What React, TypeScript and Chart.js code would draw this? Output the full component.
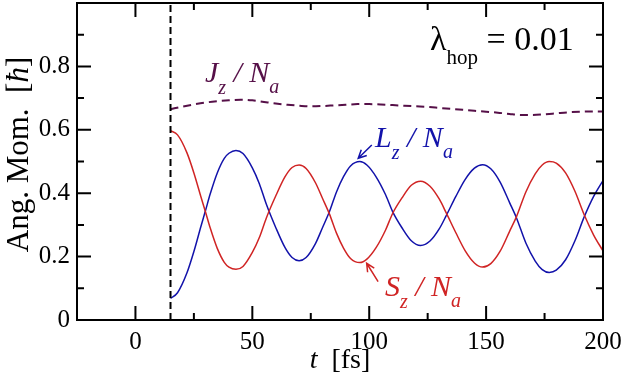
import React, { useEffect, useRef } from "react";
import { Chart, registerables } from "chart.js";

Chart.register(...registerables);

// ---------- data ----------
const T_LS = [15, 18, 22, 25, 28, 30, 32, 35, 38, 40, 43, 46, 50, 53, 56, 60, 64, 67, 70, 73, 77, 80, 83, 86, 89, 92, 96, 99, 103, 107, 110, 114, 118, 122, 126, 130, 133, 137, 141, 145, 148.5, 152, 156, 160, 163, 167, 171, 174, 177, 180, 184, 188, 192, 196, 200];
const Lz = [0.068, 0.086, 0.148, 0.216, 0.295, 0.346, 0.398, 0.464, 0.51, 0.526, 0.535, 0.525, 0.48, 0.43, 0.365, 0.292, 0.228, 0.197, 0.187, 0.197, 0.241, 0.291, 0.342, 0.404, 0.452, 0.486, 0.5, 0.489, 0.451, 0.395, 0.342, 0.291, 0.25, 0.235, 0.249, 0.288, 0.33, 0.389, 0.443, 0.479, 0.49, 0.477, 0.435, 0.371, 0.322, 0.243, 0.186, 0.159, 0.15, 0.157, 0.19, 0.25, 0.326, 0.39, 0.44];
const Sz = [0.597, 0.584, 0.528, 0.464, 0.389, 0.34, 0.29, 0.226, 0.182, 0.167, 0.16, 0.169, 0.213, 0.26, 0.322, 0.391, 0.452, 0.481, 0.489, 0.478, 0.433, 0.384, 0.334, 0.274, 0.227, 0.194, 0.181, 0.192, 0.229, 0.284, 0.336, 0.385, 0.425, 0.438, 0.422, 0.381, 0.337, 0.276, 0.219, 0.18, 0.167, 0.178, 0.217, 0.279, 0.326, 0.404, 0.461, 0.489, 0.5, 0.495, 0.464, 0.406, 0.331, 0.268, 0.218];
const T_J = [15, 20, 25, 30, 35, 40, 45, 50, 55, 60, 65, 70, 75, 80, 85, 90, 95, 100, 105, 110, 115, 120, 125, 130, 135, 140, 145, 150, 155, 160, 165, 170, 175, 180, 185, 190, 195, 200];
const Jz = [0.665, 0.673, 0.68, 0.686, 0.69, 0.693, 0.695, 0.693, 0.688, 0.683, 0.679, 0.676, 0.674, 0.675, 0.677, 0.679, 0.681, 0.681, 0.68, 0.678, 0.676, 0.674, 0.672, 0.669, 0.666, 0.663, 0.66, 0.657, 0.654, 0.65, 0.647, 0.647, 0.649, 0.652, 0.655, 0.657, 0.658, 0.658];
const T_START = [15, 15];
const V_START = [0, 1];

const X_RANGE = [-25, 200];
const Y_RANGE = [0, 1];
const X_MAJOR = [0, 50, 100, 150, 200];
const X_MINOR = [25, 75, 125, 175];
const Y_MAJOR = [0, 0.2, 0.4, 0.6, 0.8, 1.0];
const Y_MINOR = [0.1, 0.3, 0.5, 0.7, 0.9];
const Y_LABELS = ["0", "0.2", "0.4", "0.6", "0.8", ""];

const FAMILY = '"Liberation Serif", "DejaVu Serif", "Times New Roman", serif';
const BLUE = "#1212aa";
const RED = "#d02424";
const PURPLE = "#561048";

type Seg = { t: string; size: number; italic?: boolean; dy?: number };

function richWidth(ctx: CanvasRenderingContext2D, segs: Seg[]) {
  let w = 0;
  for (const s of segs) {
    ctx.font = `${s.italic ? "italic " : ""}${s.size}px ${FAMILY}`;
    w += ctx.measureText(s.t).width;
  }
  return w;
}

function drawRich(ctx: CanvasRenderingContext2D, segs: Seg[], x: number, y: number, color: string, align: "left" | "center" = "left") {
  ctx.save();
  ctx.fillStyle = color;
  ctx.textBaseline = "alphabetic";
  ctx.textAlign = "left";
  let cx = x;
  if (align === "center") cx = x - richWidth(ctx, segs) / 2;
  for (const s of segs) {
    ctx.font = `${s.italic ? "italic " : ""}${s.size}px ${FAMILY}`;
    ctx.fillText(s.t, cx, y + (s.dy || 0));
    cx += ctx.measureText(s.t).width;
  }
  ctx.restore();
}

function arrow(ctx: CanvasRenderingContext2D, x1: number, y1: number, x2: number, y2: number, color: string) {
  const ang = Math.atan2(y2 - y1, x2 - x1);
  const L = 9;
  ctx.save();
  ctx.strokeStyle = color;
  ctx.lineWidth = 1.5;
  ctx.beginPath();
  ctx.moveTo(x1, y1);
  ctx.lineTo(x2, y2);
  ctx.moveTo(x2 - L * Math.cos(ang - 0.45), y2 - L * Math.sin(ang - 0.45));
  ctx.lineTo(x2, y2);
  ctx.lineTo(x2 - L * Math.cos(ang + 0.45), y2 - L * Math.sin(ang + 0.45));
  ctx.stroke();
  ctx.restore();
}

const decor = {
  id: "decor",
  afterDatasetsDraw(chart: any) {
    const { ctx, chartArea: a, scales } = chart;
    const x = scales.x;
    const y = scales.y;
    ctx.save();
    ctx.strokeStyle = "#000";
    ctx.lineWidth = 2;
    ctx.lineCap = "butt";
    ctx.beginPath();
    const seg = (x1: number, y1: number, x2: number, y2: number) => {
      ctx.moveTo(x1, y1);
      ctx.lineTo(x2, y2);
    };
    const MAJ = 14;
    const MIN = 7;
    for (const v of X_MAJOR) {
      const p = x.getPixelForValue(v);
      seg(p, a.bottom, p, a.bottom - MAJ);
      seg(p, a.top, p, a.top + MAJ);
    }
    for (const v of X_MINOR) {
      const p = x.getPixelForValue(v);
      seg(p, a.bottom, p, a.bottom - MIN);
      seg(p, a.top, p, a.top + MIN);
    }
    for (const v of Y_MAJOR) {
      const p = y.getPixelForValue(v);
      seg(a.left, p, a.left + MAJ, p);
      seg(a.right, p, a.right - MAJ, p);
    }
    for (const v of Y_MINOR) {
      const p = y.getPixelForValue(v);
      seg(a.left, p, a.left + MIN, p);
      seg(a.right, p, a.right - MIN, p);
    }
    // frame
    seg(a.left - 1, a.top, a.right + 1, a.top);
    seg(a.left - 1, a.bottom, a.right + 1, a.bottom);
    seg(a.left, a.top, a.left, a.bottom);
    seg(a.right, a.top, a.right, a.bottom);
    ctx.stroke();
    ctx.restore();

    // axis titles
    const cxPlot = (a.left + a.right) / 2;
    drawRich(ctx, [
      { t: "t", size: 28, italic: true },
      { t: "  [fs]", size: 28 },
    ], cxPlot, 368, "#000", "center");

    ctx.save();
    ctx.translate(28, (a.top + a.bottom) / 2 - 7);
    ctx.rotate(-Math.PI / 2);
    drawRich(ctx, [
      { t: "Ang. Mom.  [", size: 31 },
      { t: "\u0127", size: 31, italic: true },
      { t: "]", size: 31 },
    ], 0, 0, "#000", "center");
    ctx.restore();

    // annotations (anchored in data coordinates)
    const px = (v: number) => x.getPixelForValue(v);
    const py = (v: number) => y.getPixelForValue(v);

    drawRich(ctx, [
      { t: "\u03bb", size: 34 },
      { t: "hop", size: 21, dy: 14 },
      { t: " = 0.01", size: 34 },
    ], px(126), py(0.852), "#000");

    drawRich(ctx, [
      { t: "J", size: 30, italic: true },
      { t: "z", size: 20, italic: true, dy: 12 },
      { t: " / ", size: 30, italic: true },
      { t: "N", size: 30, italic: true },
      { t: "a", size: 20, italic: true, dy: 11 },
    ], px(29.7), py(0.752), PURPLE);

    drawRich(ctx, [
      { t: "L", size: 30, italic: true },
      { t: "z", size: 20, italic: true, dy: 12 },
      { t: " / ", size: 30, italic: true },
      { t: "N", size: 30, italic: true },
      { t: "a", size: 20, italic: true, dy: 11 },
    ], px(102.5), py(0.546), BLUE);
    arrow(ctx, px(101.1), py(0.552), px(95.3), py(0.51), BLUE);

    drawRich(ctx, [
      { t: "S", size: 30, italic: true },
      { t: "z", size: 20, italic: true, dy: 12 },
      { t: " / ", size: 30, italic: true },
      { t: "N", size: 30, italic: true },
      { t: "a", size: 20, italic: true, dy: 11 },
    ], px(106.7), py(0.076), RED);
    arrow(ctx, px(103.8), py(0.121), px(98.9), py(0.179), RED);
  },
};

function pts(xs: number[], ys: number[]) {
  return xs.map((v, i) => ({ x: v, y: ys[i] }));
}

export default function App() {
  const ref = useRef<HTMLCanvasElement | null>(null);
  useEffect(() => {
    document.body.style.margin = "0";
    const canvas = ref.current;
    if (!canvas) return;
    const chart = new Chart(canvas, {
      type: "line",
      data: {
        datasets: [
          {
            data: pts(T_START, V_START),
            borderColor: "#000",
            borderWidth: 2,
            borderDash: [7, 4],
            pointRadius: 0,
          },
          {
            data: pts(T_J, Jz),
            borderColor: PURPLE,
            borderWidth: 2,
            borderDash: [8, 5],
            pointRadius: 0,
            cubicInterpolationMode: "monotone",
          },
          {
            data: pts(T_LS, Sz),
            borderColor: RED,
            borderWidth: 1.5,
            pointRadius: 0,
            cubicInterpolationMode: "monotone",
          },
          {
            data: pts(T_LS, Lz),
            borderColor: BLUE,
            borderWidth: 1.5,
            pointRadius: 0,
            cubicInterpolationMode: "monotone",
          },
        ],
      },
      options: {
        animation: false,
        responsive: false,
        events: [],
        layout: { padding: { top: 3, right: 21, left: 0, bottom: 0 } },
        plugins: { legend: { display: false }, tooltip: { enabled: false } },
        scales: {
          x: {
            type: "linear",
            min: X_RANGE[0],
            max: X_RANGE[1],
            grid: { display: false, drawTicks: false },
            border: { display: false },
            afterBuildTicks: (s: any) => {
              s.ticks = X_MAJOR.map((v) => ({ value: v }));
            },
            afterFit: (s: any) => {
              s.height = 63;
              s.paddingLeft = 0;
              s.paddingRight = 0;
              s.paddingTop = 0;
              s.paddingBottom = 0;
            },
            ticks: {
              autoSkip: false,
              maxRotation: 0,
              padding: 7,
              color: "#000",
              font: { family: FAMILY, size: 25 },
              callback: (v: any) => String(v),
            },
          },
          y: {
            type: "linear",
            min: Y_RANGE[0],
            max: Y_RANGE[1],
            grid: { display: false, drawTicks: false },
            border: { display: false },
            afterBuildTicks: (s: any) => {
              s.ticks = Y_MAJOR.map((v) => ({ value: v }));
            },
            afterFit: (s: any) => {
              s.width = 77;
              s.paddingLeft = 0;
              s.paddingRight = 0;
              s.paddingTop = 0;
              s.paddingBottom = 0;
            },
            ticks: {
              autoSkip: false,
              padding: 7,
              color: "#000",
              font: { family: FAMILY, size: 25 },
              callback: (_v: any, i: number) => Y_LABELS[i],
            },
          },
        },
      },
      plugins: [decor],
    });
    return () => chart.destroy();
  }, []);
  return <canvas ref={ref} width={624} height={383} style={{ display: "block" }} />;
}
